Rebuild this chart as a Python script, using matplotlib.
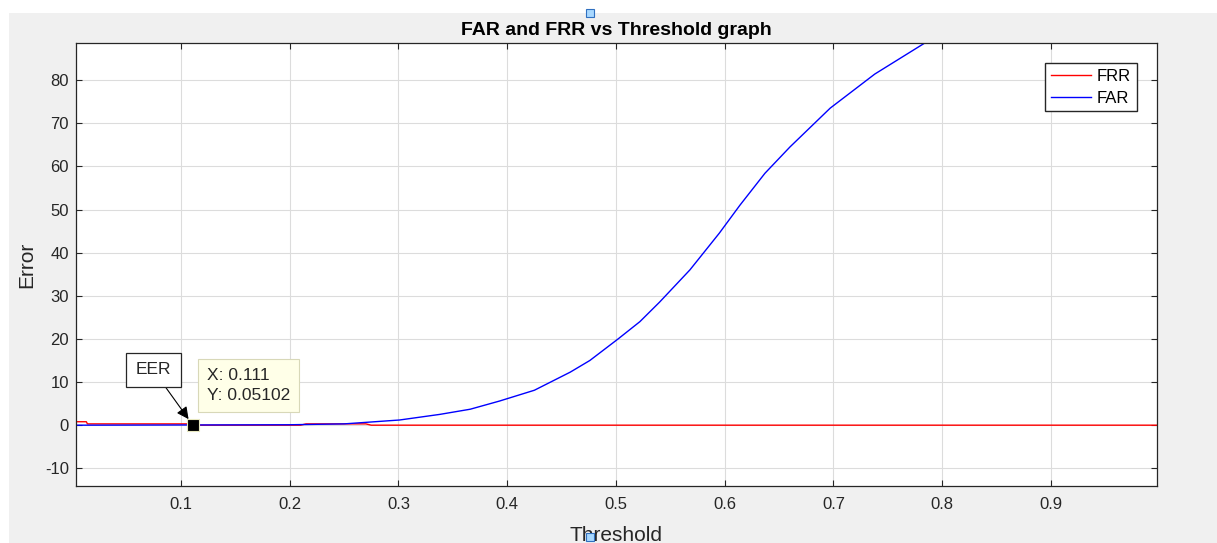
import numpy as np
import matplotlib.pyplot as plt
from matplotlib.patches import Rectangle

plt.rcParams['font.family'] = ['Liberation Sans', 'DejaVu Sans']
plt.rcParams['axes.unicode_minus'] = False

# FAR curve (percent) against threshold
far_t = [0.0035, 0.111, 0.20, 0.25, 0.301, 0.338, 0.366, 0.393, 0.425, 0.458,
         0.476, 0.502, 0.522, 0.540, 0.568, 0.595, 0.614, 0.637, 0.660, 0.697,
         0.738, 0.784, 0.82, 0.87, 0.93, 0.9975]
far_v = [0.0, 0.05102, 0.1, 0.3, 1.2, 2.5, 3.7, 5.6, 8.1, 12.3,
         15.0, 20.0, 24.0, 28.5, 36.0, 44.5, 51.0, 58.4, 64.5, 73.5,
         81.4, 88.6, 93.0, 97.0, 99.5, 100.0]

# FRR curve (percent) against threshold
frr_t = [0.0035, 0.013, 0.014, 0.111, 0.112, 0.21, 0.215, 0.27, 0.275, 0.9975]
frr_v = [0.8, 0.8, 0.3, 0.3, 0.0, 0.0, 0.3, 0.3, 0.0, 0.0]

eer_x = 0.111
eer_y = 0.05102

grey = '#f0f0f0'
txt = '#262626'

fig = plt.figure(figsize=(12.17, 5.43), dpi=100, facecolor='white')
fig.patches.append(Rectangle((9 / 1217, 0), 1, 1 - 13 / 543, transform=fig.transFigure,
                             facecolor=grey, edgecolor='none', zorder=-10))

ax = fig.add_axes([76 / 1217, 1 - 486 / 543, (1157 - 76) / 1217, (486 - 43) / 543])
ax.set_facecolor('white')

ax.plot(frr_t, frr_v, color='#ff0000', lw=1.0, label='FRR')
ax.plot(far_t, far_v, color='#0000ff', lw=1.0, label='FAR')
ax.plot([eer_x], [eer_y], marker='s', color='black', markersize=8,
        markeredgecolor='#e8e8c0', markeredgewidth=0.8, zorder=5)

ax.set_xlim(0.0035, 0.9975)
ax.set_ylim(-14.1, 88.6)
ax.set_xticks(np.arange(0.1, 1.0, 0.1))
ax.set_xticklabels(['0.1', '0.2', '0.3', '0.4', '0.5', '0.6', '0.7', '0.8', '0.9'])
ax.set_yticks(np.arange(-10, 90, 10))

ax.grid(True, color='#dcdcdc', lw=0.8)
ax.set_axisbelow(True)
ax.tick_params(direction='in', length=4, width=0.8, colors=txt, labelsize=12,
               top=True, right=True)
ax.tick_params(axis='x', pad=8)
ax.tick_params(axis='y', pad=5)
for s in ax.spines.values():
    s.set_color(txt)
    s.set_linewidth(0.9)

ax.set_title('FAR and FRR vs Threshold graph', fontsize=14, fontweight='bold',
             color='black', pad=6)
ax.set_xlabel('Threshold', fontsize=15, color=txt, labelpad=10)
ax.set_ylabel('Error', fontsize=15, color=txt, labelpad=6)

leg = ax.legend(loc='upper right', fontsize=12, fancybox=False, framealpha=1,
                edgecolor='#262626', handlelength=2.4, borderaxespad=1.2,
                labelspacing=0.4, handletextpad=0.35, borderpad=0.35)
leg.get_frame().set_linewidth(1.0)

# data tip box
ax.text(0.124, 9.2, 'X: 0.111\nY: 0.05102', fontsize=12.5, color=txt, va='center',
        ha='left', linespacing=1.45,
        bbox=dict(boxstyle='square,pad=0.5', facecolor='#ffffe8', edgecolor='#d8d8b8', lw=0.8))

# EER label with arrow to the marker
ax.annotate('EER', xy=(eer_x - 0.004, 1.4), xytext=(0.0745, 12.8), fontsize=12.5,
            color=txt, ha='center', va='center',
            bbox=dict(boxstyle='square,pad=0.55', facecolor='white', edgecolor='#262626', lw=0.9),
            arrowprops=dict(arrowstyle='-|>', color='black', lw=0.8, mutation_scale=18,
                            shrinkA=0, shrinkB=0))

# selection handles
for yy in (13, 537):
    fig.patches.append(Rectangle(((590 - 4) / 1217, 1 - (yy + 4) / 543), 8 / 1217, 8 / 543,
                                 transform=fig.transFigure, facecolor='#a8d8ff',
                                 edgecolor='#3070c0', lw=0.8, zorder=10))

fig.savefig('out.png', dpi=100, facecolor='white')
